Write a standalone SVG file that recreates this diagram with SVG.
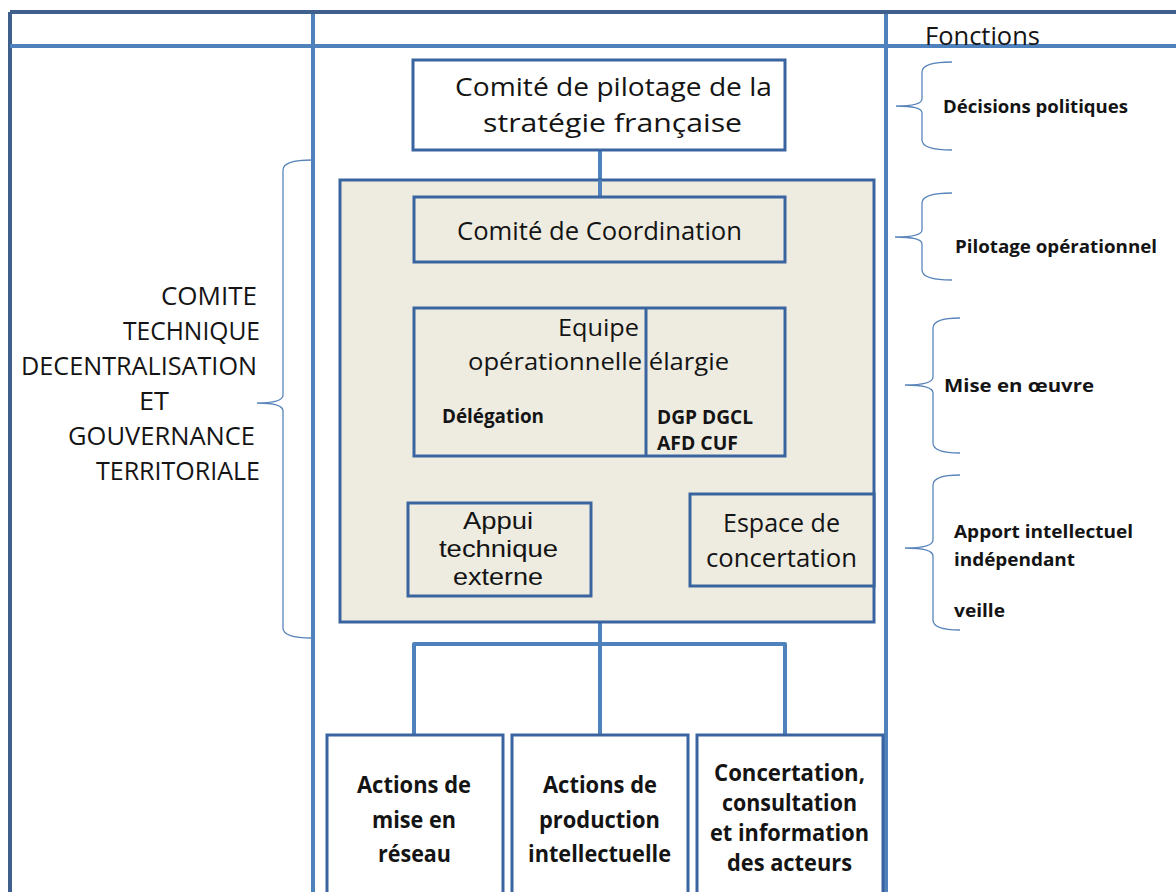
<svg xmlns="http://www.w3.org/2000/svg" width="1176" height="892" viewBox="0 0 1176 892">
<style>
  text { font-family: "Open Sans", "Liberation Sans", sans-serif; fill: #141414; }
  .b { font-weight: bold; }
  .tight { font-family: "Liberation Sans", "Open Sans", sans-serif; }
  .grid { stroke: #4F81BD; stroke-width: 4; fill: none; }
  .gridDark { stroke: #3F5F8C; stroke-width: 4; fill: none; }
  .box { fill: #FFFFFF; stroke: #3A64A0; stroke-width: 3; }
  .gbox { fill: #EEECE1; stroke: #3A64A0; stroke-width: 3; }
  .conn { stroke: #4F81BD; stroke-width: 4; fill: none; stroke-linejoin: round; }
  .brace { stroke: #5A85BA; stroke-width: 1.3; fill: none; }
</style>
<rect x="0" y="0" width="1176" height="892" fill="#FFFFFF"/>

<g id="table">
  <line class="gridDark" x1="10" y1="12" x2="1176" y2="12"/>
  <line class="gridDark" x1="10" y1="12" x2="10" y2="892"/>
  <line class="grid" x1="10" y1="46" x2="1176" y2="46"/>
  <line class="grid" x1="313" y1="14" x2="313" y2="892"/>
  <line class="grid" x1="886" y1="14" x2="886" y2="892"/>
  <text x="925" y="45" font-size="25" textLength="115" lengthAdjust="spacingAndGlyphs">Fonctions</text>
</g>

<g id="left-label">
  <path class="brace" d="M312,160 Q283,160 283,170 L283,395 Q283,403 257,403 Q283,403 283,411 L283,628 Q283,638 312,638"/>
  <text x="161" y="305" font-size="25" textLength="96" lengthAdjust="spacingAndGlyphs">COMITE</text>
  <text x="123" y="340" font-size="25" textLength="137" lengthAdjust="spacingAndGlyphs">TECHNIQUE</text>
  <text x="21" y="375" font-size="25" textLength="236" lengthAdjust="spacingAndGlyphs">DECENTRALISATION</text>
  <text x="139" y="410" font-size="25" textLength="30" lengthAdjust="spacingAndGlyphs">ET</text>
  <text x="68" y="445" font-size="25" textLength="187" lengthAdjust="spacingAndGlyphs">GOUVERNANCE</text>
  <text x="96" y="480" font-size="25" textLength="164" lengthAdjust="spacingAndGlyphs">TERRITORIALE</text>
</g>

<g id="functions">
  <path class="brace" d="M952,62 Q922,62 922,72 L922,99 Q922,106 896,106 Q922,106 922,113 L922,140 Q922,150 952,150"/>
  <text class="b" x="943" y="113" font-size="18" textLength="185" lengthAdjust="spacingAndGlyphs">Décisions politiques</text>
  <path class="brace" d="M952,193 Q922,193 922,203 L922,230 Q922,237 895,237 Q922,237 922,244 L922,270 Q922,280 952,280"/>
  <text class="b" x="955" y="253" font-size="18" textLength="202" lengthAdjust="spacingAndGlyphs">Pilotage opérationnel</text>
  <path class="brace" d="M960,318 Q933,318 933,328 L933,377 Q933,385 905,385 Q933,385 933,393 L933,443 Q933,453 960,453"/>
  <text class="b" x="944" y="392" font-size="18" textLength="150" lengthAdjust="spacingAndGlyphs">Mise en œuvre</text>
  <path class="brace" d="M960,475 Q933,475 933,485 L933,540 Q933,548 905,548 Q933,548 933,556 L933,620 Q933,630 960,630"/>
  <text class="b" x="954" y="538" font-size="18" textLength="179" lengthAdjust="spacingAndGlyphs">Apport intellectuel</text>
  <text class="b" x="954" y="566" font-size="18" textLength="121" lengthAdjust="spacingAndGlyphs">indépendant</text>
  <text class="b" x="954" y="617" font-size="18" textLength="51" lengthAdjust="spacingAndGlyphs">veille</text>
</g>

<g id="connectors">
  <line class="conn" x1="600" y1="150" x2="600" y2="197"/>
  <line class="conn" x1="600" y1="262" x2="601" y2="308"/>
  <line class="conn" x1="507" y1="457" x2="507" y2="503"/>
  <line class="conn" x1="600" y1="457" x2="600" y2="735"/>
  <line class="conn" x1="600" y1="548" x2="690" y2="548"/>
  <path class="conn" d="M414,735 L414,644 L785,644 L785,735"/>
</g>

<g id="pilotage">
  <rect class="box" x="413" y="60" width="372" height="90"/>
  <text x="455" y="96" font-size="26" textLength="317" lengthAdjust="spacingAndGlyphs">Comité de pilotage de la</text>
  <text x="483" y="132" font-size="26" textLength="259" lengthAdjust="spacingAndGlyphs">stratégie française</text>
</g>

<g id="container">
  <rect class="gbox" x="340" y="180" width="534" height="442"/>
  <line class="conn" x1="600" y1="180" x2="600" y2="197"/>
</g>

<g id="coordination">
  <rect class="gbox" x="414" y="197" width="371" height="65"/>
  <text x="457" y="240" font-size="26" textLength="285" lengthAdjust="spacingAndGlyphs">Comité de Coordination</text>
</g>

<g id="equipe">
  <rect class="gbox" x="414" y="308" width="371" height="148"/>
  <line stroke="#3A64A0" stroke-width="3" x1="646" y1="308" x2="646" y2="456"/>
  <text x="558" y="336" font-size="24" textLength="81" lengthAdjust="spacingAndGlyphs">Equipe</text>
  <text x="468" y="370" font-size="24" textLength="261" lengthAdjust="spacingAndGlyphs">opérationnelle élargie</text>
  <text class="b" x="442" y="423" font-size="19" textLength="102" lengthAdjust="spacingAndGlyphs">Délégation</text>
  <text class="b" x="657" y="424" font-size="19" textLength="96" lengthAdjust="spacingAndGlyphs">DGP DGCL</text>
  <text class="b" x="657" y="450" font-size="19" textLength="81" lengthAdjust="spacingAndGlyphs">AFD CUF</text>
</g>

<g id="appui">
  <rect class="gbox" x="408" y="503" width="183" height="93"/>
  <text class="tight" x="463" y="529" font-size="24" textLength="70" lengthAdjust="spacingAndGlyphs">Appui</text>
  <text class="tight" x="439" y="557" font-size="24" textLength="119" lengthAdjust="spacingAndGlyphs">technique</text>
  <text class="tight" x="453" y="585" font-size="24" textLength="90" lengthAdjust="spacingAndGlyphs">externe</text>
</g>

<g id="espace">
  <rect class="gbox" x="690" y="494" width="184" height="92"/>
  <text x="723" y="532" font-size="26" textLength="117" lengthAdjust="spacingAndGlyphs">Espace de</text>
  <text x="706" y="567" font-size="26" textLength="151" lengthAdjust="spacingAndGlyphs">concertation</text>
</g>

<g id="reseau">
  <rect class="box" x="327" y="735" width="176" height="165"/>
  <text class="b" x="357" y="793" font-size="23" textLength="114" lengthAdjust="spacingAndGlyphs">Actions de</text>
  <text class="b" x="372" y="828" font-size="23" textLength="84" lengthAdjust="spacingAndGlyphs">mise en</text>
  <text class="b" x="378" y="862" font-size="23" textLength="73" lengthAdjust="spacingAndGlyphs">réseau</text>
</g>

<g id="production">
  <rect class="box" x="512" y="735" width="176" height="165"/>
  <text class="b" x="543" y="793" font-size="23" textLength="114" lengthAdjust="spacingAndGlyphs">Actions de</text>
  <text class="b" x="539" y="828" font-size="23" textLength="121" lengthAdjust="spacingAndGlyphs">production</text>
  <text class="b" x="528" y="862" font-size="23" textLength="143" lengthAdjust="spacingAndGlyphs">intellectuelle</text>
</g>

<g id="concertation">
  <rect class="box" x="697" y="735" width="186" height="165"/>
  <text class="b" x="714" y="781" font-size="23" textLength="151" lengthAdjust="spacingAndGlyphs">Concertation,</text>
  <text class="b" x="722" y="811" font-size="23" textLength="135" lengthAdjust="spacingAndGlyphs">consultation</text>
  <text class="b" x="710" y="841" font-size="23" textLength="159" lengthAdjust="spacingAndGlyphs">et information</text>
  <text class="b" x="727" y="871" font-size="23" textLength="125" lengthAdjust="spacingAndGlyphs">des acteurs</text>
</g>
</svg>
